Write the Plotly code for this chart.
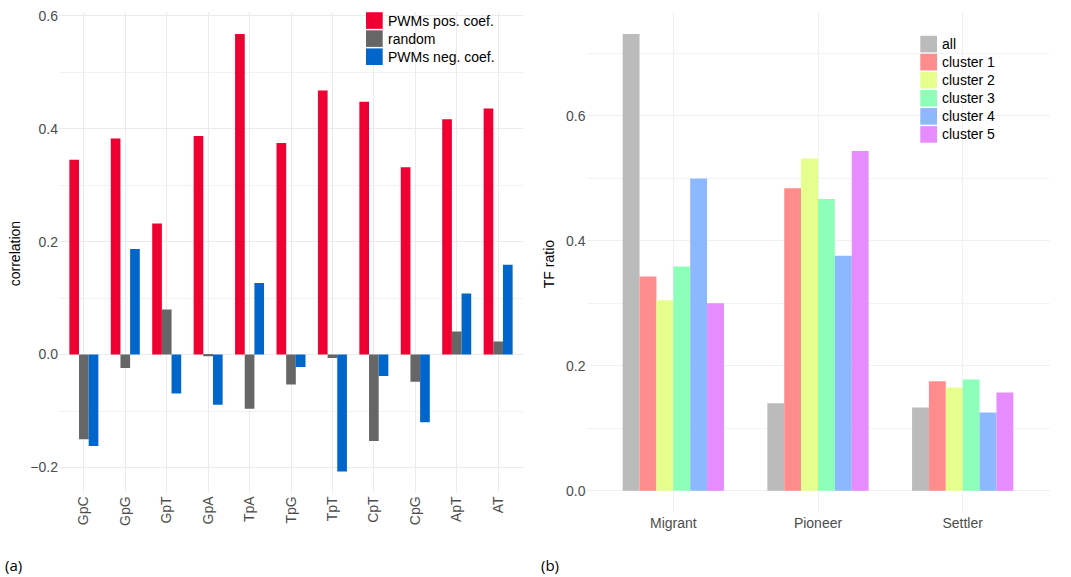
import plotly.graph_objects as go

# ---- panel (a) data ----
dinucs = ["GpC", "GpG", "GpT", "GpA", "TpA", "TpG", "TpT", "CpT", "CpG", "ApT", "AT"]
pwm_pos = [0.345, 0.383, 0.232, 0.387, 0.568, 0.375, 0.468, 0.448, 0.332, 0.417, 0.436]
random_vals = [-0.150, -0.024, 0.080, -0.003, -0.096, -0.053, -0.006, -0.153, -0.048, 0.041, 0.023]
pwm_neg = [-0.162, 0.187, -0.069, -0.089, 0.127, -0.022, -0.207, -0.038, -0.120, 0.108, 0.159]
a_names = ["PWMs pos. coef.", "random", "PWMs neg. coef."]
a_colors = ["#EE0033", "#666666", "#0066CC"]

# ---- panel (b) data ----
groups = ["Migrant", "Pioneer", "Settler"]
b_names = ["all", "cluster 1", "cluster 2", "cluster 3", "cluster 4", "cluster 5"]
b_values = [
    [0.731, 0.140, 0.133],
    [0.343, 0.484, 0.175],
    [0.305, 0.532, 0.165],
    [0.359, 0.467, 0.178],
    [0.500, 0.376, 0.125],
    [0.300, 0.544, 0.157],
]
b_colors = ["#BBBBBB", "#FF8C8C", "#E6FF8C", "#8CFFB8", "#8CB8FF", "#E68CFF"]

W, H = 1071, 577
fig = go.Figure()

for name, vals, col in zip(a_names, [pwm_pos, random_vals, pwm_neg], a_colors):
    fig.add_trace(go.Bar(x=dinucs, y=vals, name=name, marker=dict(color=col, line=dict(width=0)),
                         xaxis="x", yaxis="y", showlegend=False))

for name, vals, col in zip(b_names, b_values, b_colors):
    fig.add_trace(go.Bar(x=groups, y=vals, name=name, marker=dict(color=col, line=dict(width=0)),
                         xaxis="x2", yaxis="y2", showlegend=False))

grid = "#EBEBEB"
tickfont = dict(family="Liberation Sans, Arial", size=14, color="#4D4D4D")


def px(v, total):
    return v / total


def py(v):
    return 1 - v / H


# legend keys drawn as shapes + text (ggplot-style big square keys)
shapes, annotations = [], []


def add_legend(names, colors, x0, y0, key=16.7, pitch=18.2, gap=2.8):
    for i, (n, c) in enumerate(zip(names, colors)):
        top = y0 + i * pitch
        shapes.append(dict(type="rect", xref="paper", yref="paper",
                           x0=px(x0, W), x1=px(x0 + key, W), y0=py(top), y1=py(top + key),
                           fillcolor=c, line=dict(width=0), layer="above"))
        annotations.append(dict(text=n, x=px(x0 + key + gap, W), y=py(top + key / 2),
                                xref="paper", yref="paper", xanchor="left", yanchor="middle",
                                showarrow=False, font=dict(size=14, color="black")))


add_legend(a_names, a_colors, 366, 8.3)
add_legend(b_names, b_colors, 920.3, 32)

annotations += [
    dict(text="correlation", x=px(15, W), y=py(252), xref="paper", yref="paper",
         xanchor="center", yanchor="middle",
         textangle=-90, showarrow=False, font=dict(size=14, color="black")),
    dict(text="TF ratio", x=px(549, W), y=py(262), xref="paper", yref="paper",
         xanchor="center", yanchor="middle",
         textangle=-90, showarrow=False, font=dict(size=14, color="black")),
    dict(text="(a)", x=px(3, W), y=py(565), xref="paper", yref="paper", xanchor="left",
         yanchor="middle", showarrow=False, font=dict(family="Open Sans", size=15, color="black")),
    dict(text="(b)", x=px(539, W), y=py(565), xref="paper", yref="paper", xanchor="left",
         yanchor="middle", showarrow=False, font=dict(family="Open Sans", size=15, color="black")),
]

fig.update_layout(
    width=W, height=H, autosize=False,
    margin=dict(l=0, r=0, t=0, b=0),
    paper_bgcolor="white", plot_bgcolor="white",
    barmode="group", bargap=0.3, bargroupgap=0,
    showlegend=False,
    font=dict(family="Liberation Sans, Arial", size=14, color="black"),
    xaxis=dict(domain=[px(59, W), px(523, W)], anchor="y", type="category",
               range=[-0.6, 10.6], showgrid=True, gridcolor=grid, gridwidth=1,
               zeroline=False, showline=False, ticks="", tickangle=-90,
               tickfont=tickfont, fixedrange=True),
    yaxis=dict(domain=[py(492), py(8)], anchor="x",
               range=[-0.2445, 0.607], tickvals=[-0.2, 0, 0.2, 0.4, 0.6], tickformat=".1f",
               showgrid=True, gridcolor=grid, gridwidth=1, zeroline=False, showline=False,
               ticks="", tickfont=tickfont,
               minor=dict(tickvals=[-0.1, 0.1, 0.3, 0.5], showgrid=True, gridcolor="#F2F2F2", gridwidth=1)),
    xaxis2=dict(domain=[px(586.5, W), px(1049.5, W)], anchor="y2", type="category",
                range=[-0.6, 2.6], showgrid=True, gridcolor="#F0F0F0", gridwidth=1,
                zeroline=False, showline=False, ticks="", tickfont=tickfont),
    yaxis2=dict(domain=[py(513), py(8)], anchor="x2",
                range=[-0.0365, 0.7665], tickvals=[0, 0.2, 0.4, 0.6], tickformat=".1f",
                showgrid=True, gridcolor="#F0F0F0", gridwidth=1, zeroline=False, showline=False,
                ticks="", tickfont=tickfont,
                minor=dict(tickvals=[0.1, 0.3, 0.5, 0.7], showgrid=True, gridcolor="#F3F3F3", gridwidth=1)),
    shapes=shapes,
    annotations=annotations,
)

fig.write_html("out.html", config={"displayModeBar": False},
               post_script="document.body.style.margin='0';document.body.style.overflow='hidden';")
